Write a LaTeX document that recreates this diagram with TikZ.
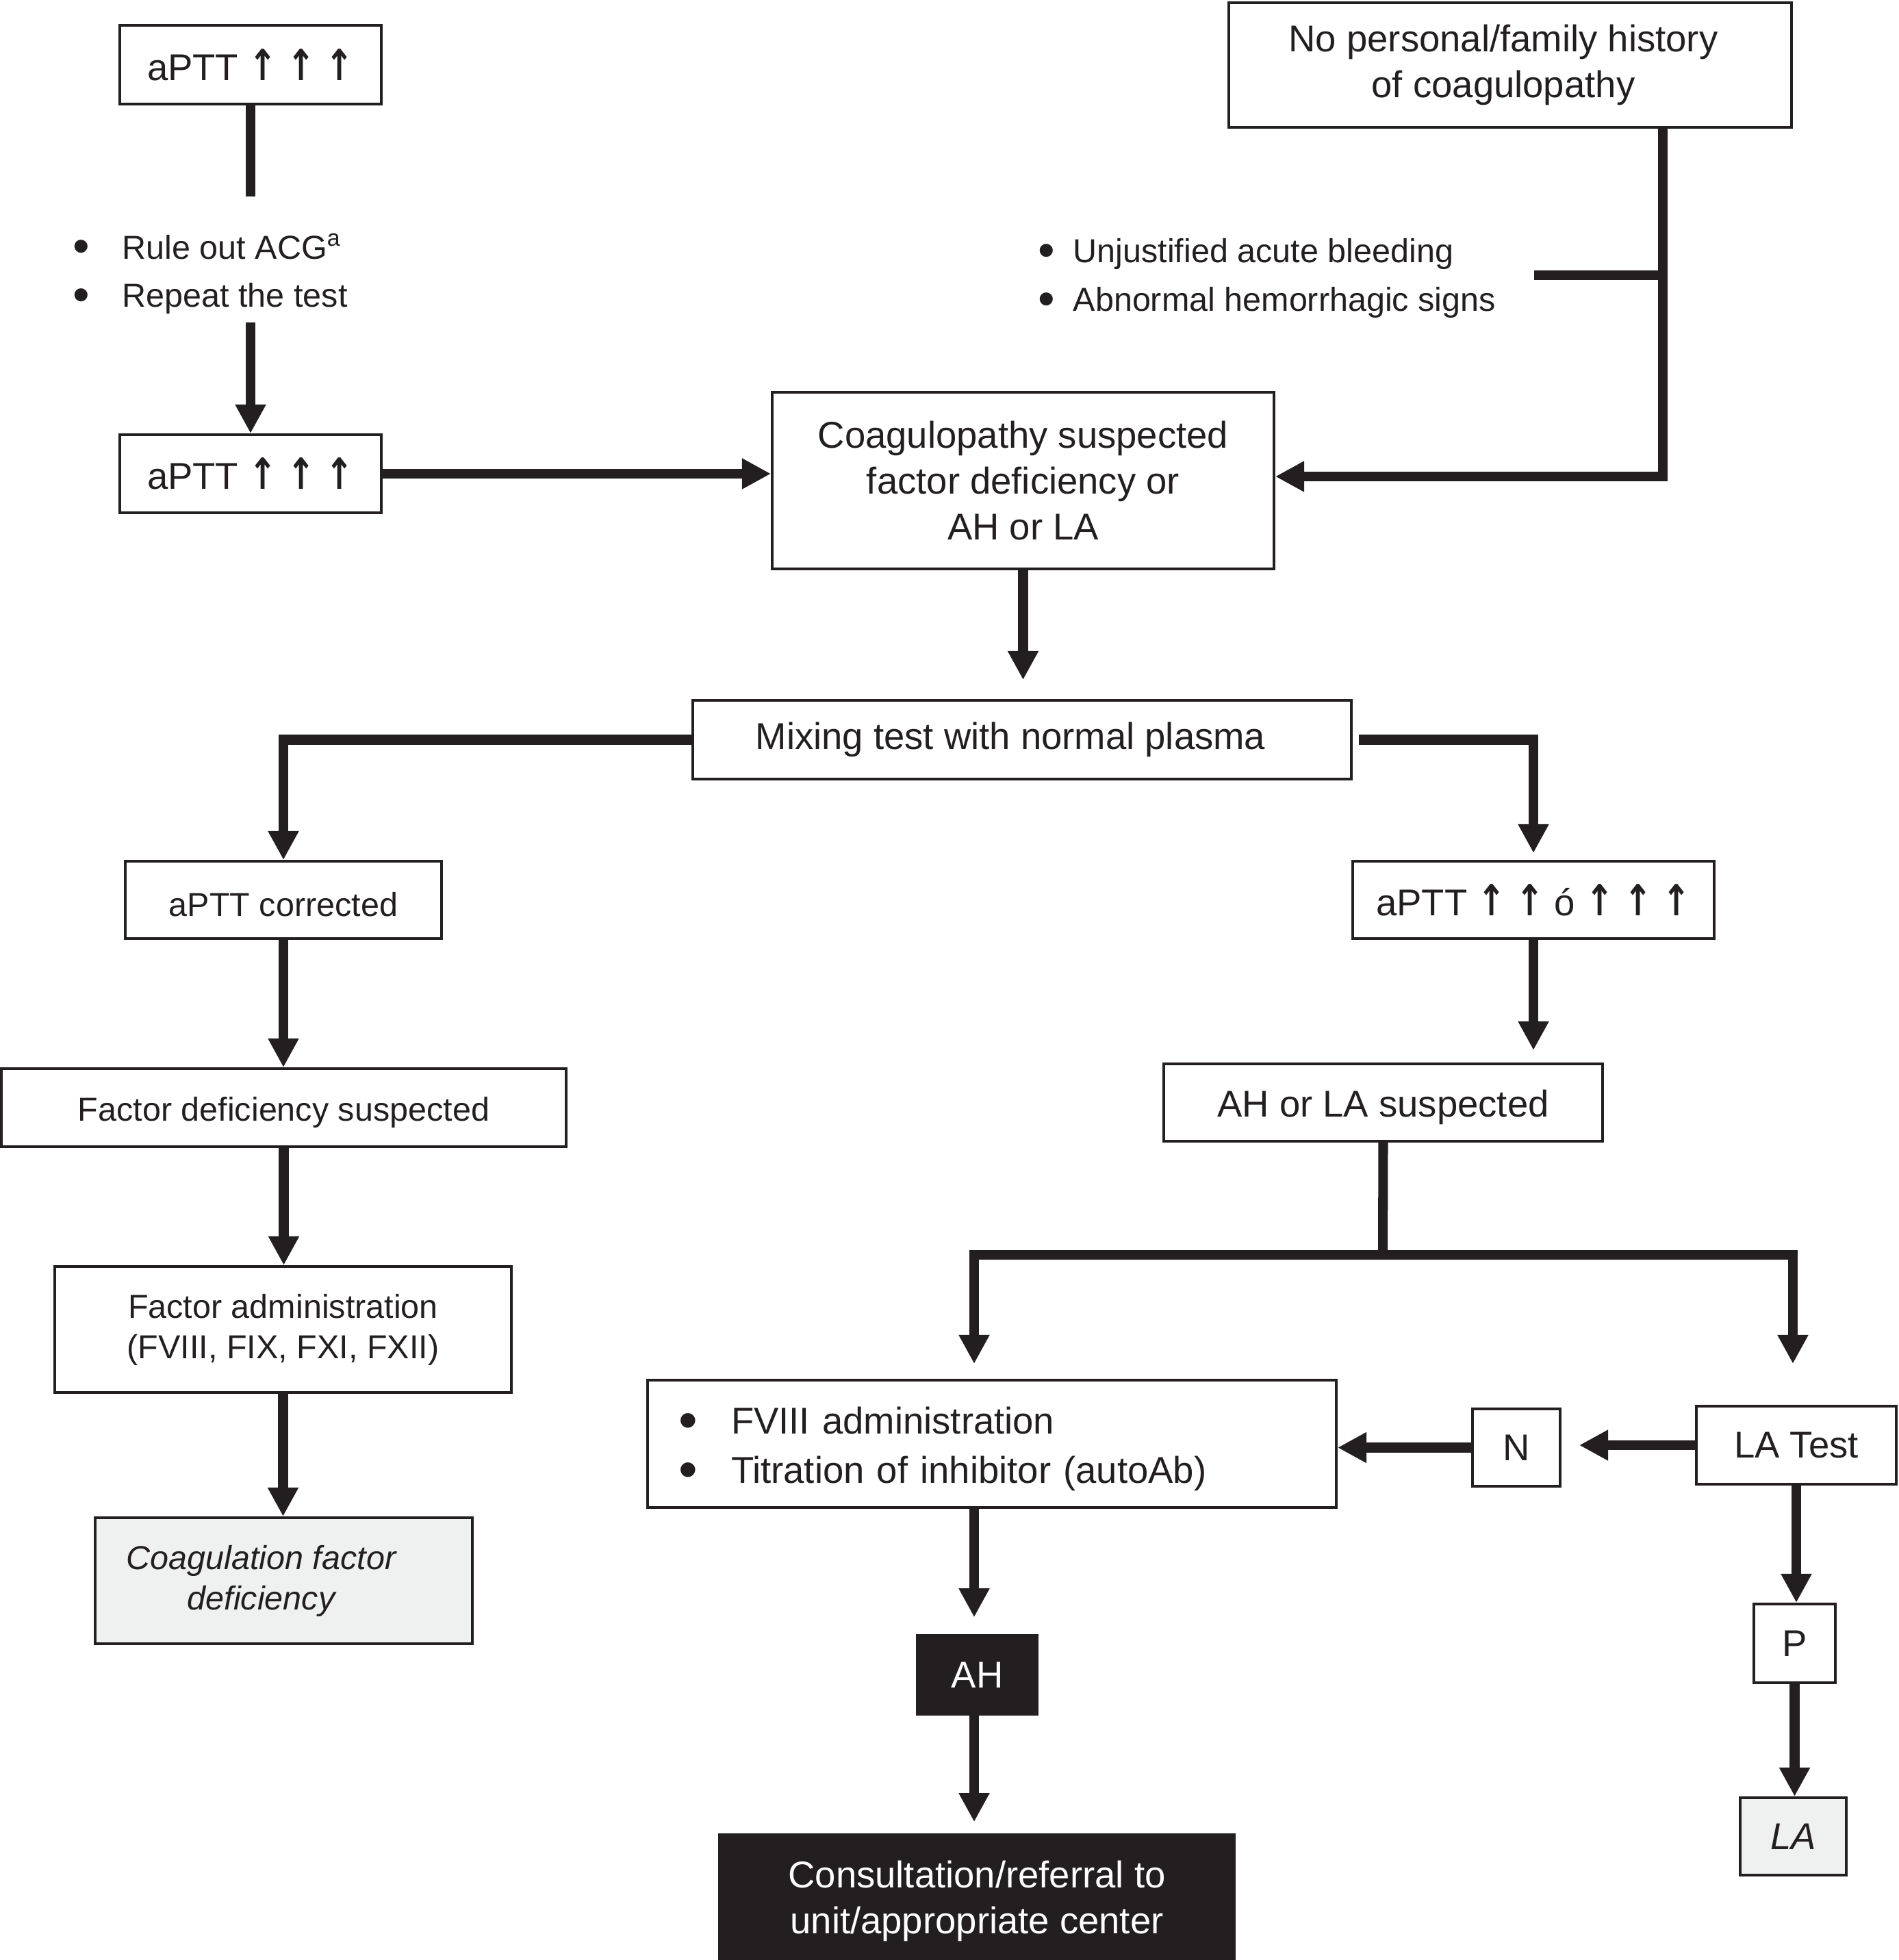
\documentclass[tikz,border=0pt]{standalone}
\usepackage{fontspec}
\setmainfont{Liberation Sans}
\newfontfamily\arrfont{DejaVu Sans Bold}
\usetikzlibrary{arrows.meta}
\definecolor{ink}{RGB}{35,31,32}
\definecolor{shade}{RGB}{239,241,241}
\newcommand{\bul}[1][0.72cm]{\makebox[#1][l]{\raisebox{-0.12em}{\scalebox{1.45}{\textbullet}}}}
\newcommand{\up}{{\arrfont\scalebox{0.9}[1.15]{↑}}}
\newcommand{\low}[1]{\raisebox{-0.07cm}[\height][\depth]{#1}}
\newcommand{\bigtxt}{\fontsize{15.5}{19}\selectfont}
\newcommand{\smltxt}{\fontsize{13.8}{16.8}\selectfont}
\newcommand{\lsttxt}{\fontsize{13.8}{20}\selectfont}

\begin{document}
\begin{tikzpicture}[
  box/.style={draw=ink, line width=1.1pt, text=ink, inner sep=0pt, align=center, font=\bigtxt},
  sbox/.style={box, font=\smltxt},
  gbox/.style={box, fill=shade, font=\smltxt\itshape},
  dbox/.style={draw=ink, fill=ink, text=white, inner sep=0pt, align=center, font=\bigtxt},
  lst/.style={text=ink, inner sep=0pt, align=left, anchor=west, font=\lsttxt},
  conn/.style={draw=ink, line width=4pt},
  arr/.style={conn, -{Triangle[width=12pt,length=12pt]}}
]
\useasboundingbox (0,0) rectangle (27.74,-28.63);

\node [box, minimum width=3.82cm, minimum height=1.15cm] (top) at (3.66,-0.945) {aPTT \up\ \up\ \up};
\node [lst] (ruleout) at (1.06,-4.0) {\bul Rule out ACG\textsuperscript{a}\\\bul Repeat the test};
\node [box, minimum width=3.82cm, minimum height=1.14cm] (aptt2) at (3.66,-6.92) {aPTT \up\ \up\ \up};

\node [box, minimum width=8.22cm, minimum height=1.82cm] (nohist) at (22.06,-0.95) {No personal/family history\hspace*{0.2cm}\\of coagulopathy\hspace*{0.2cm}};
\node [lst] (signs) at (15.16,-4.065) {\bul[0.51cm]Unjustified acute bleeding\\\bul[0.51cm]Abnormal hemorrhagic signs};
\node [box, minimum width=7.33cm, minimum height=2.58cm] (coag) at (14.945,-7.02) {Coagulopathy suspected\\factor deficiency or\\AH or LA};
\node [box, minimum width=9.62cm, minimum height=1.15cm] (mixing) at (14.93,-10.805) {Mixing test with normal plasma\hspace*{0.34cm}};

\node [sbox, minimum width=4.62cm, minimum height=1.13cm] (corrected) at (4.14,-13.145) {\low{aPTT corrected}};
\node [sbox, minimum width=8.25cm, minimum height=1.14cm] (factdef) at (4.145,-16.18) {\low{Factor deficiency suspected}};
\node [sbox, minimum width=6.67cm, minimum height=1.84cm] (factadm) at (4.135,-19.42) {Factor administration\\(FVIII, FIX, FXI, FXII)};
\node [gbox, minimum width=5.51cm, minimum height=1.84cm] (coagdef) at (4.145,-23.09) {Coagulation factor\hspace*{0.66cm}\\deficiency\hspace*{0.66cm}};

\node [box, minimum width=5.28cm, minimum height=1.13cm] (apptr) at (22.40,-13.145) {aPTT \up\ \up\ ó \up\ \up\ \up};
\node [box, minimum width=6.41cm, minimum height=1.13cm] (ahla) at (20.205,-16.105) {\low{AH or LA suspected}};
\node [box, align=left, text width=9.16cm, inner xsep=0.45cm, minimum height=1.86cm, font=\fontsize{15.5}{20.5}\selectfont] (fviii) at (14.49,-21.09) {\rule{0pt}{0.55cm}\bul[0.77cm]FVIII administration\\\bul[0.77cm]Titration of inhibitor (autoAb)};
\node [box, minimum width=1.28cm, minimum height=1.13cm] (nbox) at (22.15,-21.145) {N};
\node [box, minimum width=2.92cm, minimum height=1.14cm] (latest) at (26.24,-21.11) {LA Test};
\node [box, minimum width=1.19cm, minimum height=1.15cm] (pbox) at (26.215,-24.005) {P};
\node [gbox, font=\bigtxt\itshape, minimum width=1.55cm, minimum height=1.13cm] (labox) at (26.195,-26.825) {LA};
\node [dbox, minimum width=1.77cm, minimum height=1.17cm] (ahbox) at (14.275,-24.465) {AH};
\node [dbox, minimum width=7.54cm, minimum height=1.96cm] (consult) at (14.27,-27.77) {Consultation/referral to\\unit/appropriate center};

\coordinate (c1) at (3.66,-2.87);
\coordinate (c2) at (3.66,-4.71);
\draw [conn] (top.south) -- (c1);
\draw [arr] (c2) -- (aptt2.north);
\draw [arr] (aptt2.east) -- (aptt2.east -| coag.west);

\coordinate (j1) at (24.29,-6.96);
\coordinate (j2) at (22.41,-4.02);
\draw [arr] (nohist.south -| j1) -- (j1) -- (j1 -| coag.east);
\draw [conn] (j2) -- (j2 -| j1);

\draw [arr, shorten >=0.28cm] (coag.south) -- (coag.south |- mixing.north);
\draw [arr] (mixing.west) -| (corrected.north);
\draw [arr, shorten <=0.09cm, shorten >=0.1cm] (mixing.east) -| (apptr.north);

\draw [arr] (corrected.south) -- (corrected.south |- factdef.north);
\draw [arr] (factdef.south) -- (factdef.south |- factadm.north);
\draw [arr] (factadm.south) -- (factadm.south |- coagdef.north);

\draw [arr, shorten >=0.18cm] (apptr.south) -- (apptr.south |- ahla.north);
\coordinate (j3) at (20.20,-18.33);
\coordinate (jl) at (14.23,-18.33);
\coordinate (jr) at (26.19,-18.33);
\draw [conn] (ahla.south) -- (j3);
\draw [arr, shorten >=0.22cm] (j3) -| (jl |- fviii.north);
\draw [arr, shorten >=0.6cm] (j3) -| (jr |- latest.north);

\draw [arr, shorten >=0.26cm] (latest.west) -- (latest.west -| nbox.east);
\draw [arr] (nbox.west) -- (nbox.west -| fviii.east);
\draw [arr, shorten >=0.25cm] (jl |- fviii.south) -- (jl |- ahbox.north);
\draw [arr, shorten >=0.17cm] (jl |- ahbox.south) -- (jl |- consult.north);
\draw [arr] (latest.south) -- (latest.south |- pbox.north);
\draw [arr] (pbox.south) -- (pbox.south |- labox.north);
\end{tikzpicture}
\end{document}
